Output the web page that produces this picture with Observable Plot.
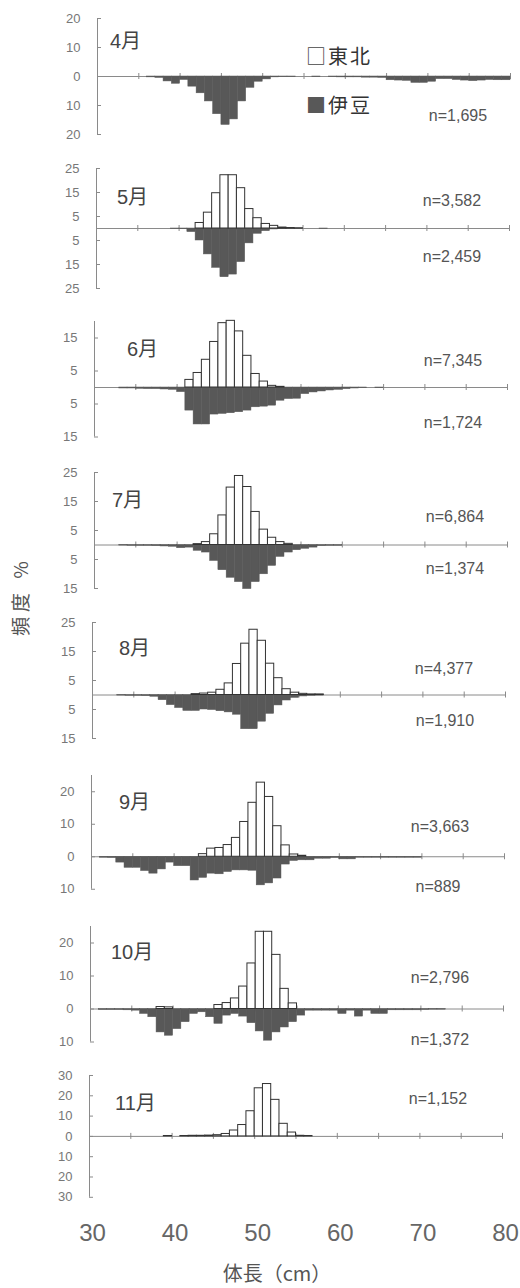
<!DOCTYPE html>
<html><head><meta charset="utf-8">
<script src="https://cdn.jsdelivr.net/npm/d3@7"></script>
<script src="https://cdn.jsdelivr.net/npm/@observablehq/plot@0.6"></script>
<style>
body{margin:0;background:#fff;}
#chart{position:relative;width:520px;height:1288px;overflow:hidden;background:#fff;font-family:"Liberation Sans",Arial,"Noto Sans CJK JP",sans-serif;color:#555;}
.panel{position:absolute;left:0;}
.lbl{position:absolute;white-space:nowrap;line-height:1;}
</style></head><body><div id="chart"></div>
<script>
// ---------- data ----------
const months = ["4月","5月","6月","7月","8月","9月","10月","11月"];
const seriesNames = ["東北","伊豆"];

// [体長 bin (cm), 頻度 %]
const tohoku4 = [];
const izu4 = [[36,0.3],[37,0.5],[38,1.7],[39,2.5],[40,1.2],[41,3.5],[42,5.8],[43,8.6],[44,13],[45,16.7],[46,14.8],[47,8.6],[48,3.9],[49,1.8],[50,1],[51,0.3],[52,0.2],[53,0.2],[56,0.2],[58,0.2],[59,0.3],[60,0.3],[61,0.3],[62,0.4],[63,0.4],[64,0.5],[65,1.3],[66,1.4],[67,1.5],[68,2.2],[69,2.2],[70,1.8],[71,0.9],[72,0.9],[73,1.2],[74,1.4],[75,1.6],[76,1.4],[77,1.2],[78,1.3],[79,1.3]];
const tohoku5 = [[42,2.3],[43,6.6],[44,14.7],[45,22.2],[46,22.2],[47,16.8],[48,8.1],[49,4.3],[50,1.9],[51,1.1],[52,0.4],[53,0.2],[54,0.1]];
const izu5 = [[39,0.2],[40,0.3],[41,1.5],[42,5],[43,10.8],[44,16.4],[45,20.3],[46,19.2],[47,14],[48,6.2],[49,2.2],[50,1.1],[51,0.4],[52,0.3],[53,0.2],[54,0.1],[57,0.2]];
const tohoku6 = [[41,2.3],[42,4.4],[43,8.4],[44,13.8],[45,19.5],[46,20.2],[47,17],[48,9.6],[49,4.1],[50,1.8],[51,0.5],[52,0.2]];
const izu6 = [[33,0.3],[34,0.3],[35,0.4],[36,0.5],[37,0.5],[38,0.6],[39,0.7],[40,1.4],[41,7],[42,11.2],[43,11.2],[44,8.2],[45,8],[46,7.8],[47,7.5],[48,7],[49,6],[50,5.8],[51,5.5],[52,4],[53,3.5],[54,3.4],[55,2],[56,1.5],[57,1.2],[58,0.9],[59,0.7],[60,0.5],[61,0.3],[62,0.2],[64,0.2]];
const tohoku7 = [[42,0.3],[43,1],[44,3.7],[45,10.2],[46,19.8],[47,23.8],[48,20],[49,11.4],[50,5.3],[51,2.5],[52,1],[53,0.4]];
const izu7 = [[33,0.2],[34,0.3],[35,0.3],[36,0.3],[37,0.4],[38,0.5],[39,0.6],[40,1.1],[41,0.9],[42,2],[43,2.6],[44,5.5],[45,8.7],[46,11.3],[47,12.8],[48,15.2],[49,12.8],[50,10.1],[51,7.2],[52,4.1],[53,2.6],[54,1.8],[55,1.3],[56,0.9],[57,0.4],[58,0.3],[59,0.3]];
const tohoku8 = [[42,0.3],[43,0.5],[44,0.8],[45,1.8],[46,4],[47,10.7],[48,17.7],[49,22.5],[50,18.7],[51,10.8],[52,5.8],[53,2],[54,0.8],[55,0.4],[56,0.2],[57,0.2]];
const izu8 = [[33,0.2],[34,0.3],[35,0.3],[36,0.4],[37,0.6],[38,1.8],[39,3.5],[40,4.5],[41,5.5],[42,5.5],[43,5],[44,5.2],[45,5.6],[46,6],[47,6.8],[48,11.8],[49,11.8],[50,9.2],[51,6.5],[52,3.6],[53,1.9],[54,1],[55,0.5],[56,0.3],[57,0.2]];
const tohoku9 = [[43,0.8],[44,2.5],[45,2.7],[46,3.6],[47,5.8],[48,10.7],[49,16.6],[50,22.8],[51,18.4],[52,9.4],[53,3.5],[54,0.7],[55,0.3]];
const izu9 = [[31,0.3],[32,0.4],[33,1.8],[34,3.4],[35,3.4],[36,4.4],[37,5.2],[38,3.9],[39,1.8],[40,2.9],[41,2.9],[42,7.3],[43,6.5],[44,5.2],[45,5.4],[46,4.7],[47,4.2],[48,4.2],[49,4.3],[50,8.8],[51,8.2],[52,6.7],[53,2.4],[54,1.3],[55,1.1],[56,1.1],[57,0.6],[58,0.6],[59,0.4],[60,0.8],[61,0.8],[62,0.3],[63,0.3],[64,0.3],[65,0.3],[66,0.3],[67,0.3],[68,0.3],[69,0.3]];
const tohoku10 = [[38,0.6],[39,0.5],[45,1.2],[46,1.8],[47,3.2],[48,6.8],[49,13.8],[50,23.4],[51,23.4],[52,16.4],[53,6.1],[54,1.7]];
const izu10 = [[31,0.3],[32,0.3],[33,0.3],[34,0.4],[35,0.5],[36,1.5],[37,2.5],[38,7.1],[39,8.1],[40,6.1],[41,4],[42,1.5],[43,1],[44,2.5],[45,4.5],[46,2],[47,1.5],[48,2.3],[49,4.3],[50,6.8],[51,9.6],[52,7.1],[53,5.6],[54,4],[55,2],[56,0.5],[57,0.5],[58,0.5],[59,0.5],[60,1.5],[61,0.5],[62,2.3],[63,0.5],[64,1.5],[65,1.5],[66,0.4],[67,0.4],[68,0.4],[69,0.4],[70,0.3],[71,0.2],[72,0.2]];
const tohoku11 = [[39,0.2],[41,0.2],[42,0.3],[43,0.3],[44,0.4],[45,0.6],[46,1.2],[47,2.9],[48,5.6],[49,12.4],[50,23.7],[51,25.8],[52,18],[53,6.2],[54,1.9],[55,0.3],[56,0.2]];
const izu11 = [];

const tohokuSeries = [tohoku4,tohoku5,tohoku6,tohoku7,tohoku8,tohoku9,tohoku10,tohoku11];
const izuSeries = [izu4,izu5,izu6,izu7,izu8,izu9,izu10,izu11];

const nTohoku = [null,"n=3,582","n=7,345","n=6,864","n=4,377","n=3,663","n=2,796","n=1,152"];
const nIzu = ["n=1,695","n=2,459","n=1,724","n=1,374","n=1,910","n=889","n=1,372",null];

// y domains (東北 up, 伊豆 down) and tick labels
const yDomains = [[-20,20],[-25,25],[-15,20],[-15,25],[-15,25],[-10,25],[-10,25],[-30,30]];
const yTicks = [[20,10,0,-10,-20],[25,15,5,-5,-15,-25],[15,5,-5,-15],[25,15,5,-5,-15],[25,15,5,-5,-15],[20,10,0,-10],[20,10,0,-10],[30,20,10,0,-10,-20,-30]];
const xDomain = [30,80];
const xTicks = [35,40,45,50,55,60,65,70,75,80];
const xLabels = [30,40,50,60,70,80];
const xTitle = "体長（cm）";
const yTitle = "頻度 %";

// ---------- layout (pixels) ----------
const axisX = [97,96,94,94,92,91,90,89];
const zeroY = [76,228,387,544,694.5,856,1008,1136];
const pxPerUnit = [2.9,2.4,3.3,2.9,2.9,3.25,3.3,2.03];
const plotW = 413;
const monthPos = [[110,41],[117,197],[127,349],[112,500],[119,648],[119,802],[111,952],[115,1103]];
const nTohokuPos = [null,[452,201],[453,361],[455,517],[444,669],[440,827],[440,978],[438,1099]];
const nIzuPos = [[458,116],[452,257],[453,423],[455,569],[445,721],[438,887],[440,1040],null];

const chart = document.getElementById("chart");
const DARK = "#585858";
const AXIS = "#8a8a8a";

function rows(pairs){ return pairs.map(([x,v]) => ({x1:x, x2:x+1, v})); }

for (let i = 0; i < months.length; i++) {
  const [ymin, ymax] = yDomains[i];
  const k = pxPerUnit[i];
  const mt = 10, mb = 10;
  const h = (ymax - ymin) * k + mt + mb;
  const left = axisX[i];
  const plot = Plot.plot({
    width: 520, height: h,
    marginLeft: left, marginRight: 520 - left - plotW, marginTop: mt, marginBottom: mb,
    style: {background: "transparent", overflow: "visible", fontFamily: "'Liberation Sans', Arial, sans-serif", fontSize: "13px", color: "#777"},
    x: {domain: xDomain, axis: null},
    y: {domain: [ymin, ymax], ticks: yTicks[i], tickFormat: d => Math.abs(d), tickSize: 0, tickPadding: 17, label: null},
    marks: [
      Plot.ruleX([xDomain[0]], {y1: ymin, y2: ymax, stroke: AXIS}),
      Plot.ruleY(yTicks[i], {x1: xDomain[0], x2: xDomain[0], insetRight: -4, stroke: AXIS}),
      Plot.ruleY([0], {x1: xDomain[0], x2: xDomain[1], stroke: AXIS}),
      Plot.ruleX(xTicks, {y1: 0, y2: 0, insetTop: -3, insetBottom: -3, stroke: AXIS}),
      Plot.rect(rows(izuSeries[i]), {x1: "x1", x2: "x2", y1: 0, y2: d => -d.v, fill: DARK, stroke: DARK, strokeWidth: 0.5}),
      Plot.rect(rows(tohokuSeries[i]), {x1: "x1", x2: "x2", y1: 0, y2: d => d.v, fill: "white", stroke: "#333", strokeWidth: 1})
    ]
  });
  const div = document.createElement("div");
  div.className = "panel";
  div.style.top = (zeroY[i] - ymax * k - mt) + "px";
  div.appendChild(plot);
  chart.appendChild(div);
}

// bottom x tick labels
{
  const plot = Plot.plot({
    width: 520, height: 40, marginLeft: 92, marginRight: 15, marginTop: 0, marginBottom: 0,
    style: {background: "transparent", overflow: "visible", fontFamily: "'Liberation Sans', Arial, sans-serif"},
    x: {domain: xDomain, axis: null},
    marks: [Plot.text(xLabels, {x: d => d, text: d => String(d), fontSize: 24, fill: "#666", frameAnchor: "middle"})]
  });
  const div = document.createElement("div");
  div.className = "panel";
  div.style.top = "1213px";
  div.appendChild(plot);
  chart.appendChild(div);
}

function addLabel(text, x, y, css, anchor) {
  const d = document.createElement("div");
  d.className = "lbl";
  d.textContent = text;
  d.style.left = x + "px";
  d.style.top = y + "px";
  d.style.transform = anchor === "left" ? "translate(0,-50%)" : "translate(-50%,-50%)";
  Object.assign(d.style, css || {});
  chart.appendChild(d);
  return d;
}

months.forEach((m, i) => addLabel(m, monthPos[i][0], monthPos[i][1], {fontSize: "20px", color: "#444"}, "left"));
nTohoku.forEach((t, i) => { if (t) addLabel(t, nTohokuPos[i][0], nTohokuPos[i][1], {fontSize: "16px", color: "#555"}); });
nIzu.forEach((t, i) => { if (t) addLabel(t, nIzuPos[i][0], nIzuPos[i][1], {fontSize: "16px", color: "#555"}); });

// legend
{
  const l1 = addLabel("", 306, 56, {fontSize: "20px", color: "#333", fontFamily: "'Noto Sans CJK JP', sans-serif", letterSpacing: "2px"}, "left");
  l1.innerHTML = '<span style="color:#444">□</span>' + seriesNames[0];
  const l2 = addLabel("", 306, 105, {fontSize: "20px", color: "#333", fontFamily: "'Noto Sans CJK JP', sans-serif", letterSpacing: "2px"}, "left");
  l2.innerHTML = '<span style="color:' + DARK + '">■</span>' + seriesNames[1];
}

// axis titles
addLabel(xTitle, 277, 1273, {fontSize: "20px", color: "#555", fontFamily: "'Noto Sans CJK JP', sans-serif"});
const yt = addLabel(yTitle, 19, 596, {fontSize: "19px", color: "#555", fontFamily: "'Noto Sans CJK JP', sans-serif", letterSpacing: "5px"});
yt.style.transform = "translate(-50%,-50%) rotate(-90deg)";
</script>
</body></html>
